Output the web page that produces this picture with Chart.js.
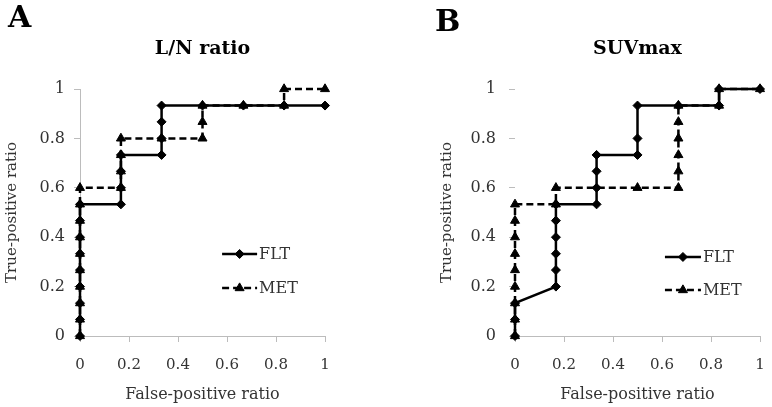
<!DOCTYPE html>
<html><head><meta charset="utf-8">
<script src="https://cdn.jsdelivr.net/npm/chart.js@4.4.1/dist/chart.umd.min.js"></script>
<style>
html,body{margin:0;padding:0;background:#fff;}
#wrap{position:relative;width:772px;height:407px;overflow:hidden;background:#fff;}
.panel{position:absolute;top:0;width:337px;height:407px;}
</style></head><body>
<div id="wrap">
<div class="panel" style="left:0"><canvas id="cA" width="337" height="407"></canvas></div>
<div class="panel" style="left:435px"><canvas id="cB" width="337" height="407"></canvas></div>
</div>
<script>
// ---- data ----
const panelLetters = ['A', 'B'];
const panelTitles = ['L/N ratio', 'SUVmax'];
const seriesNames = ['FLT', 'MET'];
const xAxisTitle = 'False-positive ratio';
const yAxisTitle = 'True-positive ratio';
const tickValues = [0, 0.2, 0.4, 0.6, 0.8, 1];
const tickLabels = ['0', '0.2', '0.4', '0.6', '0.8', '1'];

// Panel A: L/N ratio
const lnFltX = [0,0,0,0,0,0,0,0,0, 0.167,0.167,0.167,0.167, 0.333,0.333,0.333,0.333, 0.5,0.667,0.833,1];
const lnFltY = [0,0.067,0.133,0.2,0.267,0.333,0.4,0.467,0.533, 0.533,0.6,0.667,0.733, 0.733,0.8,0.867,0.933, 0.933,0.933,0.933,0.933];
const lnMetX = [0,0,0,0,0,0,0,0,0,0, 0.167,0.167,0.167,0.167, 0.333, 0.5,0.5,0.5, 0.667, 0.833,0.833, 1];
const lnMetY = [0,0.067,0.133,0.2,0.267,0.333,0.4,0.467,0.533,0.6, 0.6,0.667,0.733,0.8, 0.8, 0.8,0.867,0.933, 0.933, 0.933,1, 1];

// Panel B: SUVmax
const suvFltX = [0,0,0, 0.167,0.167,0.167,0.167,0.167,0.167, 0.333,0.333,0.333,0.333, 0.5,0.5,0.5, 0.667, 0.833,0.833, 1];
const suvFltY = [0,0.067,0.133, 0.2,0.267,0.333,0.4,0.467,0.533, 0.533,0.6,0.667,0.733, 0.733,0.8,0.933, 0.933, 0.933,1, 1];
const suvMetX = [0,0,0,0,0,0,0,0,0, 0.167,0.167, 0.5, 0.667,0.667,0.667,0.667,0.667,0.667, 0.833,0.833, 1];
const suvMetY = [0,0.067,0.133,0.2,0.267,0.333,0.4,0.467,0.533, 0.533,0.6, 0.6, 0.6,0.667,0.733,0.8,0.867,0.933, 0.933,1, 1];

const pairs = (xs, ys) => xs.map((x, i) => ({x: x, y: ys[i]}));

const FONT = '"DejaVu Serif", "Liberation Serif", serif';
const AXIS_GRAY = '#bcbcbc';
const TEXT_GRAY = '#333333';

function drawMarker(ctx, style, r, x, y) {
  ctx.beginPath();
  if (style === 'triangle') {
    const s = Math.sin(2 * Math.PI / 3) * r;
    ctx.moveTo(x, y - r);
    ctx.lineTo(x + s, y + r / 2);
    ctx.lineTo(x - s, y + r / 2);
  } else {
    ctx.moveTo(x, y - r);
    ctx.lineTo(x + r, y);
    ctx.lineTo(x, y + r);
    ctx.lineTo(x - r, y);
  }
  ctx.closePath();
  ctx.fill();
  ctx.stroke();
}

const panelDecor = {
  id: 'panelDecor',
  afterDraw(chart, args, o) {
    const ctx = chart.ctx, ca = chart.chartArea;
    ctx.save();
    ctx.fillStyle = '#000';
    ctx.textAlign = 'left';
    ctx.textBaseline = 'alphabetic';
    ctx.font = 'bold 30px ' + FONT;
    ctx.fillText(o.letter, o.letterX, o.letterY);
    chart.data.datasets.forEach((ds, i) => {
      const y = ca.top + o.legendY[i] * (ca.bottom - ca.top);
      const x1 = ca.left + o.legendX * (ca.right - ca.left);
      const x2 = x1 + o.legendLen;
      ctx.lineWidth = ds.borderWidth;
      ctx.strokeStyle = ds.borderColor;
      ctx.setLineDash(ds.borderDash || []);
      ctx.beginPath(); ctx.moveTo(x1, y); ctx.lineTo(x2, y); ctx.stroke();
      ctx.setLineDash([]);
      ctx.lineWidth = 1;
      ctx.fillStyle = '#000';
      drawMarker(ctx, ds.pointStyle, ds.pointRadius, (x1 + x2) / 2, y);
      ctx.font = '16px ' + FONT;
      ctx.textBaseline = 'middle';
      ctx.fillStyle = TEXT_GRAY;
      ctx.fillText(ds.label, x2 + 2, y + 1);
    });
    ctx.restore();
  }
};

function makeDataset(label, data, dashed) {
  return {
    label: label,
    data: data,
    showLine: true,
    borderColor: '#000',
    backgroundColor: '#000',
    borderWidth: 2.5,
    borderDash: dashed ? [7, 4] : [],
    pointStyle: dashed ? 'triangle' : 'rectRot',
    pointRadius: dashed ? 5.2 : 4.5,
    pointBorderWidth: 1,
    pointBackgroundColor: '#000',
    pointBorderColor: '#000',
    tension: 0,
    clip: false
  };
}

function makeChart(id, idx, datasets, showYBorder, yPad, decor) {
  return new Chart(document.getElementById(id), {
    type: 'scatter',
    data: {datasets: datasets},
    plugins: [panelDecor],
    options: {
      responsive: false,
      animation: false,
      layout: {autoPadding: false, padding: {left: 0, right: 12, top: 0, bottom: 0}},
      plugins: {
        legend: {display: false},
        tooltip: {enabled: false},
        title: {
          display: true,
          text: panelTitles[idx],
          fullSize: false,
          color: '#000',
          font: {family: FONT, size: 19, weight: 'bold', lineHeight: 1.2},
          padding: {top: 38, bottom: 28.2}
        },
        panelDecor: decor
      },
      scales: {
        x: {
          type: 'linear',
          min: 0, max: 1,
          afterFit(s) { s.height = 71; s.paddingLeft = 0; s.paddingRight = 0; },
          afterBuildTicks(s) { s.ticks = tickValues.map(v => ({value: v})); },
          grid: {drawOnChartArea: false, drawTicks: true, tickLength: 6, color: AXIS_GRAY, tickColor: AXIS_GRAY},
          border: {display: true, color: AXIS_GRAY, width: 1},
          ticks: {
            color: TEXT_GRAY, maxRotation: 0, autoSkip: false, padding: 14,
            font: {family: FONT, size: 15},
            callback: (v, i) => tickLabels[i]
          },
          title: {
            display: true, text: xAxisTitle, color: TEXT_GRAY,
            font: {family: FONT, size: 16, lineHeight: 1.2},
            padding: {top: 0, bottom: 3}
          }
        },
        y: {
          type: 'linear',
          min: 0, max: 1,
          afterFit(s) { s.width = 80; s.paddingTop = 0; s.paddingBottom = 0; },
          afterBuildTicks(s) { s.ticks = tickValues.map(v => ({value: v})); },
          grid: {drawOnChartArea: false, drawTicks: true, tickLength: 6, color: AXIS_GRAY, tickColor: AXIS_GRAY},
          border: {display: showYBorder, color: AXIS_GRAY, width: 1},
          ticks: {
            color: TEXT_GRAY, autoSkip: false, padding: yPad,
            font: {family: FONT, size: 16},
            callback: (v, i) => tickLabels[i]
          },
          title: {
            display: true, text: yAxisTitle, color: TEXT_GRAY,
            font: {family: FONT, size: 15, lineHeight: 1.2},
            padding: {top: 3, bottom: 0}
          }
        }
      }
    }
  });
}

makeChart('cA', 0, [
  makeDataset(seriesNames[0], pairs(lnFltX, lnFltY), false),
  makeDataset(seriesNames[1], pairs(lnMetX, lnMetY), true)
], true, 9, {letter: panelLetters[0], letterX: 8, letterY: 27, legendX: 0.58, legendLen: 35, legendY: [0.668, 0.806]});

makeChart('cB', 1, [
  makeDataset(seriesNames[0], pairs(suvFltX, suvFltY), false),
  makeDataset(seriesNames[1], pairs(suvMetX, suvMetY), true)
], false, 13, {letter: panelLetters[1], letterX: 0, letterY: 31, legendX: 0.612, legendLen: 36, legendY: [0.68, 0.814]});
</script>
</body></html>
